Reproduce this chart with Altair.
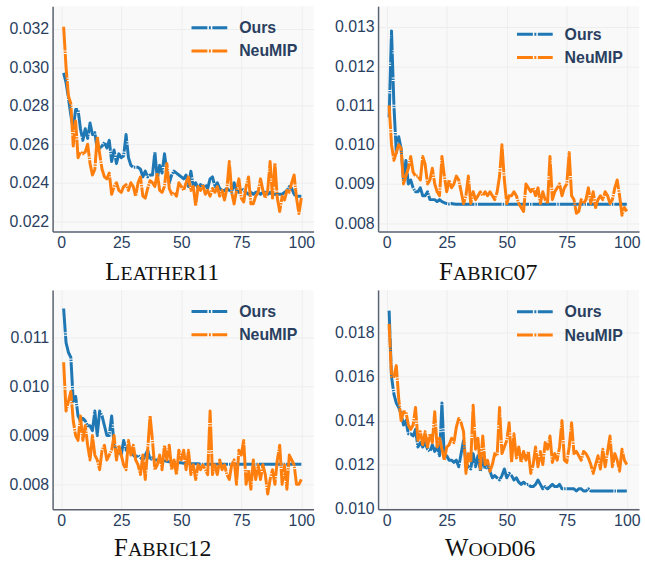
import altair as alt
import pandas as pd

epochs = list(range(1, 101))

leather_ours = [
    0.0297, 0.0292, 0.0284, 0.0275, 0.0268, 0.0278, 0.0278, 0.0268, 0.0262, 0.0268,
    0.0263, 0.0271, 0.0265, 0.0266, 0.0257, 0.0258, 0.0259, 0.0261, 0.0258, 0.0262,
    0.0251, 0.0257, 0.0250, 0.0255, 0.0253, 0.0254, 0.0265, 0.0253, 0.0249, 0.0248,
    0.0248, 0.0248, 0.0247, 0.0243, 0.0246, 0.0243, 0.0244, 0.0244, 0.0256, 0.0242,
    0.0249, 0.0245, 0.0255, 0.0246, 0.0240, 0.0244, 0.0246, 0.0245, 0.0244, 0.0243,
    0.0242, 0.0244, 0.0238, 0.0246, 0.0238, 0.0240, 0.0237, 0.0239, 0.0238, 0.0239,
    0.0237, 0.0242, 0.0243, 0.0238, 0.0240, 0.0237, 0.0236, 0.0236, 0.0237, 0.0236,
    0.0235, 0.0240, 0.0236, 0.0235, 0.0237, 0.0236, 0.0235, 0.0234, 0.0235, 0.0234,
    0.0235, 0.0235, 0.0234, 0.0235, 0.0235, 0.0234, 0.0235, 0.0234, 0.0234, 0.0234,
    0.0234, 0.0234, 0.0235, 0.0236, 0.0238, 0.0237, 0.0234, 0.0233, 0.0233, 0.0233,
]
leather_neumip = [
    0.0321, 0.0300, 0.0285, 0.0281, 0.0259, 0.0272, 0.0253, 0.0256, 0.0255, 0.0256,
    0.0260, 0.0250, 0.0244, 0.0247, 0.0264, 0.0255, 0.0247, 0.0243, 0.0242, 0.0245,
    0.0234, 0.0238, 0.0240, 0.0236, 0.0235, 0.0238, 0.0239, 0.0236, 0.0240, 0.0238,
    0.0233, 0.0240, 0.0243, 0.0233, 0.0232, 0.0237, 0.0241, 0.0240, 0.0238, 0.0245,
    0.0236, 0.0235, 0.0238, 0.0250, 0.0237, 0.0234, 0.0235, 0.0233, 0.0240, 0.0238,
    0.0236, 0.0240, 0.0243, 0.0236, 0.0238, 0.0228, 0.0238, 0.0236, 0.0239, 0.0234,
    0.0236, 0.0233, 0.0237, 0.0235, 0.0238, 0.0233, 0.0236, 0.0231, 0.0237, 0.0251,
    0.0235, 0.0229, 0.0236, 0.0242, 0.0232, 0.0230, 0.0238, 0.0243, 0.0229, 0.0229,
    0.0233, 0.0235, 0.0242, 0.0236, 0.0232, 0.0236, 0.0251, 0.0232, 0.0250, 0.0232,
    0.0225, 0.0233, 0.0231, 0.0236, 0.0235, 0.0240, 0.0244, 0.0232, 0.0224, 0.0232,
]

fabric07_ours = [
    0.0107, 0.0129, 0.0110, 0.0098, 0.0102, 0.0099, 0.0091, 0.0096, 0.0090, 0.0091,
    0.0089, 0.0088, 0.0088, 0.0089, 0.0087, 0.0087, 0.0088, 0.0086, 0.0086, 0.0086,
    0.00855, 0.0086, 0.00855, 0.00852, 0.0085, 0.00849, 0.0085, 0.00849, 0.00848, 0.00848,
    0.00848, 0.00848, 0.00848, 0.00848, 0.00848, 0.00848, 0.00848, 0.00848, 0.00848, 0.00848,
    0.00848, 0.00848, 0.00848, 0.00848, 0.00848, 0.00848, 0.00848, 0.00848, 0.00848, 0.00848,
    0.00848, 0.00848, 0.00848, 0.00848, 0.00848, 0.00848, 0.00848, 0.00848, 0.00848, 0.00848,
    0.00848, 0.00848, 0.00848, 0.00848, 0.00848, 0.00848, 0.00848, 0.00848, 0.00848, 0.00848,
    0.00848, 0.00848, 0.00848, 0.00848, 0.00848, 0.00848, 0.00848, 0.00848, 0.00848, 0.00848,
    0.00848, 0.00848, 0.00848, 0.00848, 0.00848, 0.00848, 0.00848, 0.00848, 0.00848, 0.00848,
    0.00848, 0.00848, 0.00848, 0.00848, 0.00848, 0.00848, 0.00848, 0.00848, 0.00848, 0.00848,
]
fabric07_neumip = [
    0.0110, 0.0100, 0.0096, 0.0098, 0.0100, 0.0099, 0.0090, 0.0092, 0.0094, 0.0097,
    0.0093, 0.0092, 0.0092, 0.0091, 0.0097, 0.0095, 0.0090, 0.0091, 0.0094, 0.0090,
    0.0088, 0.0087, 0.0097, 0.0092, 0.0088, 0.0091, 0.0089, 0.0090, 0.0092, 0.0091,
    0.0088, 0.0085, 0.0087, 0.0092, 0.0085, 0.0088, 0.0086, 0.0087, 0.0088, 0.0087,
    0.0088, 0.0087, 0.0088, 0.0087, 0.0086, 0.0088, 0.0092, 0.0100, 0.0091, 0.0085,
    0.0087, 0.0087, 0.0088, 0.0087, 0.0085, 0.0084, 0.0083, 0.0090, 0.0089, 0.0088,
    0.0089, 0.0087, 0.0089, 0.0085, 0.0088, 0.0086, 0.0085, 0.0097, 0.0086, 0.0088,
    0.0089, 0.0090, 0.0087, 0.0089, 0.0090, 0.0098, 0.0087, 0.0086, 0.00825, 0.0083,
    0.0086, 0.0085, 0.0086, 0.0089, 0.0085, 0.0088, 0.0084, 0.0086, 0.0087, 0.0086,
    0.0088, 0.0087, 0.0085, 0.0086, 0.0089, 0.0091, 0.0087, 0.0082, 0.0084, 0.0083,
]

fabric12_ours = [
    0.0116, 0.0109, 0.0107, 0.0106, 0.0097, 0.0098, 0.0094, 0.0093, 0.00935, 0.0093,
    0.0092, 0.0092, 0.0091, 0.0095, 0.0090, 0.0095, 0.0094, 0.0092, 0.0090, 0.0090,
    0.0094, 0.0088, 0.0087, 0.0087, 0.0086, 0.0089, 0.0087, 0.0088, 0.0087, 0.0086,
    0.00855, 0.0086, 0.00855, 0.0085, 0.0086, 0.0087, 0.0085, 0.00855, 0.0085, 0.0085,
    0.00848, 0.0085, 0.00848, 0.00847, 0.00846, 0.00846, 0.00845, 0.00845, 0.00844, 0.00844,
    0.00843, 0.00843, 0.00843, 0.00842, 0.00842, 0.00842, 0.00842, 0.00841, 0.00841, 0.00841,
    0.00841, 0.00841, 0.00841, 0.00841, 0.00841, 0.00841, 0.00841, 0.00841, 0.00841, 0.00841,
    0.00841, 0.00841, 0.00841, 0.00841, 0.00841, 0.00841, 0.00841, 0.00841, 0.00841, 0.00841,
    0.00841, 0.00841, 0.00841, 0.00841, 0.00841, 0.00841, 0.00841, 0.00841, 0.00841, 0.00841,
    0.00841, 0.00841, 0.00841, 0.00841, 0.00841, 0.00841, 0.00841, 0.00841, 0.00841, 0.00841,
]
fabric12_neumip = [
    0.0105, 0.0095, 0.0097, 0.0099, 0.0093, 0.0090, 0.0089, 0.0094, 0.0089, 0.0092,
    0.0088, 0.0085, 0.0090, 0.0086, 0.0085, 0.0083, 0.0087, 0.0088, 0.0085, 0.0086,
    0.0087, 0.0090, 0.0085, 0.0088, 0.0086, 0.0084, 0.0083, 0.0089, 0.0086, 0.0088,
    0.0085, 0.0084, 0.0082, 0.0086, 0.0081, 0.0087, 0.0094, 0.0089, 0.0083, 0.0084,
    0.0086, 0.0083, 0.0088, 0.0085, 0.0088, 0.0083, 0.0085, 0.0082, 0.0087, 0.0085,
    0.0087, 0.0083, 0.0087, 0.0082, 0.0084, 0.0081, 0.0084, 0.0083, 0.0084, 0.0083,
    0.0082, 0.0095, 0.0082, 0.0084, 0.0082, 0.0085, 0.0083, 0.0084, 0.0082, 0.0081,
    0.0084, 0.0085, 0.0080, 0.0087, 0.0086, 0.0089, 0.0080, 0.0083, 0.0079, 0.0085,
    0.0081, 0.0084, 0.0081, 0.0084, 0.0082, 0.0078, 0.0081, 0.0083, 0.0080, 0.0085,
    0.0088, 0.0080, 0.0084, 0.0079, 0.0086, 0.0085, 0.0084, 0.0080, 0.0080, 0.0081,
]

wood06_ours = [
    0.0190, 0.0160, 0.0152, 0.0148, 0.0146, 0.0143, 0.0138, 0.0140, 0.0134, 0.0134,
    0.0133, 0.0136, 0.0128, 0.0130, 0.0128, 0.0130, 0.0127, 0.0126, 0.0129, 0.0126,
    0.0128, 0.0124, 0.0148, 0.0123, 0.0124, 0.0122, 0.0122, 0.0121, 0.0122, 0.0119,
    0.0125, 0.0131, 0.0121, 0.0119, 0.0118, 0.0125, 0.0119, 0.0124, 0.0117, 0.0123,
    0.0118, 0.0120, 0.0117, 0.0114, 0.0115, 0.0114, 0.0113, 0.0115, 0.0118, 0.0114,
    0.0116, 0.0115, 0.0113, 0.0114, 0.0112, 0.0111, 0.0112, 0.0111, 0.0111, 0.0110,
    0.0110, 0.0111, 0.0113, 0.0111, 0.0109, 0.0110, 0.0109, 0.0110, 0.0111, 0.0110,
    0.0110, 0.0111, 0.0109, 0.0109, 0.0109, 0.0109, 0.0109, 0.0109, 0.0108, 0.0109,
    0.0109, 0.0108, 0.0108, 0.0109, 0.0108, 0.0108, 0.0108, 0.0108, 0.0108, 0.0108,
    0.0108, 0.0108, 0.0108, 0.0108, 0.0108, 0.0108, 0.0108, 0.0108, 0.0108, 0.0108,
]
wood06_neumip = [
    0.0184, 0.0160, 0.0160, 0.0165, 0.0150, 0.0140, 0.0144, 0.0144, 0.0138, 0.0136,
    0.0138, 0.0146, 0.0131, 0.0135, 0.0129, 0.0135, 0.0128, 0.0134, 0.0130, 0.0144,
    0.0128, 0.0132, 0.0127, 0.0122, 0.0128, 0.0129, 0.0132, 0.0130, 0.0137, 0.0141,
    0.0139, 0.0135, 0.0116, 0.0125, 0.0121, 0.0147, 0.0127, 0.0132, 0.0118, 0.0133,
    0.0120, 0.0122, 0.0117, 0.0120, 0.0125, 0.0124, 0.0146, 0.0125, 0.0128, 0.0131,
    0.0139, 0.0121, 0.0134, 0.0123, 0.0128, 0.0121, 0.0126, 0.0122, 0.0126, 0.0116,
    0.0120, 0.0128, 0.0119, 0.0126, 0.0120, 0.0130, 0.0127, 0.0133, 0.0121, 0.0125,
    0.0122, 0.0128, 0.0140, 0.0122, 0.0121, 0.0128, 0.0139, 0.0125, 0.0126, 0.0124,
    0.0122, 0.0126, 0.0125, 0.0123, 0.0120, 0.0116, 0.0120, 0.0124, 0.0118, 0.0127,
    0.0119, 0.0126, 0.0133, 0.0119, 0.0125, 0.0122, 0.0117, 0.0127, 0.0122, 0.0120,
]

methods = ["Ours", "NeuMIP"]
x_ticks = [0, 25, 50, 75, 100]

BLUE = "#1f77b4"
ORANGE = "#ff7f0e"
TEXT = "#2a3f5f"
LINE_DASH = [24, 1, 1.5, 1]
LEGEND_DASH = [16, 1.5, 2, 1.5]
SANS = "Liberation Sans"
SERIF = "Liberation Serif"

# Times advance widths (per 1000 em) used to place the small-caps title pieces
TIMES_W = {'A': 722, 'B': 667, 'C': 667, 'D': 722, 'E': 611, 'F': 556, 'H': 722,
           'I': 333, 'L': 611, 'O': 722, 'R': 667, 'T': 611, 'W': 944,
           '0': 500, '1': 500, '2': 500, '6': 500, '7': 500}


def twidth(s, size):
    return sum(TIMES_W[c] for c in s) / 1000.0 * size


PW = 263


def panel(ours, neumip, ydom, yticks, parts, height, legend_y, title_dy, cx=111):
    xs = alt.Scale(domain=[-3.6, 105.1], nice=False, zero=False)
    ys = alt.Scale(domain=ydom, nice=False, zero=False)
    xaxis = alt.Axis(values=x_ticks, format="d", labelFont=SANS, labelFontSize=16,
                     labelColor=TEXT, ticks=False, labelPadding=3, labelFlush=False,
                     domainColor="#5a6270", domainWidth=1.5, gridColor="#eeeeee")
    yaxis = alt.Axis(values=yticks, format=".3f", labelFont=SANS, labelFontSize=16,
                     labelColor=TEXT, ticks=False, labelPadding=4,
                     domainColor="#5a6270", domainWidth=1.5, gridColor="#eeeeee")
    layers = []
    for name, vals, col in [("Ours", ours, BLUE), ("NeuMIP", neumip, ORANGE)]:
        df = pd.DataFrame({"epoch": epochs, "value": vals, "method": [name] * len(vals)})
        layers.append(
            alt.Chart(df).mark_line(color=col, strokeWidth=3, strokeDash=LINE_DASH,
                                    strokeJoin="round", clip=True).encode(
                x=alt.X("epoch:Q", scale=xs, axis=xaxis, title=None),
                y=alt.Y("value:Q", scale=ys, axis=yaxis, title=None),
            )
        )
    # legend
    for i, (name, col) in enumerate([("Ours", BLUE), ("NeuMIP", ORANGE)]):
        ly = legend_y + 23.5 * i
        ldf = pd.DataFrame({"method": [name]})
        layers.append(
            alt.Chart(ldf).mark_rule(color=col, strokeWidth=3, strokeDash=LEGEND_DASH).encode(
                x=alt.value(140), x2=alt.value(176), y=alt.value(ly))
        )
        layers.append(
            alt.Chart(ldf).mark_text(align="left", baseline="middle", font=SANS,
                                     fontSize=16, fontWeight="bold", color=TEXT).encode(
                x=alt.value(188), y=alt.value(ly + 0.5), text="method:N")
        )
    # small-caps title made of pieces: (text, size, kerning before piece)
    total = sum(twidth(t, sz) + k for t, sz, k in parts)
    x0 = cx - total / 2
    for t, sz, k in parts:
        x0 += k
        tdf = pd.DataFrame({"label": [t]})
        layers.append(
            alt.Chart(tdf).mark_text(align="left", baseline="alphabetic", font=SERIF,
                                     fontSize=sz, color="#111111").encode(
                x=alt.value(x0), y=alt.value(height + title_dy), text="label:N")
        )
        x0 += twidth(t, sz)
    return alt.layer(*layers).properties(width=PW, height=height)


p1 = panel(leather_ours, leather_neumip, [0.02147, 0.03317],
           [0.022, 0.024, 0.026, 0.028, 0.030, 0.032],
           [("L", 25, 0), ("EATHER", 20, 0), ("11", 24, -2.5)], 227, 21.7, 49)
p2 = panel(fabric07_ours, fabric07_neumip, [0.00779, 0.01353],
           [0.008, 0.009, 0.010, 0.011, 0.012, 0.013],
           [("F", 25, 0), ("ABRIC", 20, 0), ("07", 24, 0)], 227, 28.3, 48.5)
p3 = panel(fabric12_ours, fabric12_neumip, [0.00749, 0.01198],
           [0.008, 0.009, 0.010, 0.011],
           [("F", 25, 0), ("ABRIC", 20, 0), ("12", 24, -1)], 221, 21.7, 47.5)
p4 = panel(wood06_ours, wood06_neumip, [0.00997, 0.01994],
           [0.010, 0.012, 0.014, 0.016, 0.018],
           [("W", 25, 0), ("OOD", 20, 0), ("06", 24, 0)], 221, 22, 47.5, cx=113)

chart = alt.vconcat(
    alt.hconcat(p1, p2, spacing=18),
    alt.hconcat(p3, p4, spacing=18),
    spacing=5,
).properties(
    padding={"left": 8, "top": 4, "right": 4, "bottom": 4},
    background="white",
).configure_view(
    fill="#f9f9f9", stroke=None
)

chart.save("out.html", embed_options={"renderer": "svg", "actions": False})
